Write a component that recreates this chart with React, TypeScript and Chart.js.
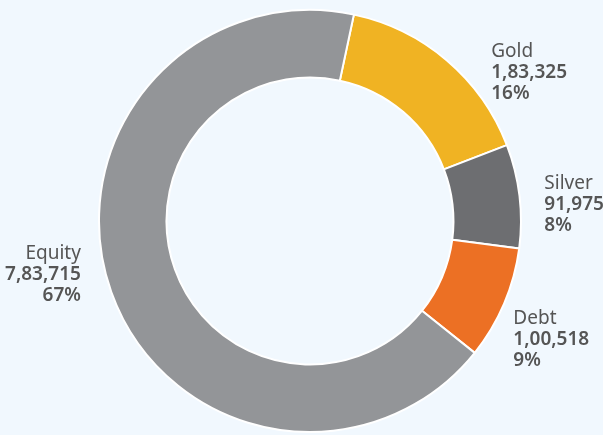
import React, { useEffect, useRef } from "react";
import { Chart, registerables } from "chart.js";

Chart.register(...registerables);

const CATEGORIES = ["Gold", "Silver", "Debt", "Equity"];
const VALUES = [183325, 91975, 100518, 783715];
const COLORS = ["#F0B323", "#6D6E71", "#EC7024", "#939598"];

const BG = "#F1F8FE";
const TEXT = "#555555";
const FONT = "'Noto Sans', sans-serif";

// layout nudges for the outside labels (degrees added to slice mid angle)
const LABEL_NUDGE_DEG = [10, 2.5, 7, 6.8];
const LABEL_DISTANCE = 24;
const LINE_H = 21;

function formatIN(n: number): string {
  const s = String(Math.round(n));
  if (s.length <= 3) return s;
  const last3 = s.slice(-3);
  let rest = s.slice(0, -3);
  const parts: string[] = [];
  while (rest.length > 2) {
    parts.unshift(rest.slice(-2));
    rest = rest.slice(0, -2);
  }
  if (rest) parts.unshift(rest);
  return parts.join(",") + "," + last3;
}

function percents(vals: number[]): number[] {
  const total = vals.reduce((a, b) => a + b, 0);
  const raw = vals.map((v) => (v / total) * 100);
  const fl = raw.map(Math.floor);
  let left = 100 - fl.reduce((a, b) => a + b, 0);
  const order = raw
    .map((r, i) => ({ i, rem: r - Math.floor(r) }))
    .sort((a, b) => b.rem - a.rem);
  for (let k = 0; k < order.length && left > 0; k++, left--) fl[order[k].i] += 1;
  return fl;
}

const labelPlugin = {
  id: "outsideLabels",
  afterDraw(chart: any) {
    const ctx = chart.ctx as CanvasRenderingContext2D;
    const meta = chart.getDatasetMeta(0);
    const pcts = percents(VALUES);
    ctx.save();
    ctx.fillStyle = TEXT;
    ctx.textBaseline = "middle";
    meta.data.forEach((arc: any, i: number) => {
      const p = arc.getProps(["x", "y", "startAngle", "endAngle", "outerRadius"], true);
      const mid = (p.startAngle + p.endAngle) / 2 + (LABEL_NUDGE_DEG[i] * Math.PI) / 180;
      const r = p.outerRadius + LABEL_DISTANCE;
      const x = p.x + Math.cos(mid) * r;
      const y = p.y + Math.sin(mid) * r + 1;
      ctx.textAlign = Math.cos(mid) >= 0 ? "left" : "right";
      const lines = [
        { t: CATEGORIES[i], w: "400" },
        { t: formatIN(VALUES[i]), w: "600" },
        { t: pcts[i] + "%", w: "600" },
      ];
      lines.forEach((ln, k) => {
        ctx.font = `${ln.w} 19px ${FONT}`;
        ctx.fillText(ln.t, x, y + (k - 1) * LINE_H);
      });
    });
    ctx.restore();
  },
};

export default function App() {
  const ref = useRef<HTMLCanvasElement | null>(null);
  useEffect(() => {
    document.body.style.margin = "0";
    document.body.style.background = BG;
    const chart = new Chart(ref.current!, {
      type: "doughnut",
      data: {
        labels: CATEGORIES,
        datasets: [
          {
            data: VALUES,
            backgroundColor: COLORS,
            borderColor: "#ffffff",
            borderWidth: 2,
            hoverOffset: 0,
          },
        ],
      },
      options: {
        responsive: false,
        animation: false,
        rotation: 12,
        cutout: "68%",
        layout: { padding: { top: 9, bottom: 2, left: 98, right: 81 } },
        plugins: {
          legend: { display: false },
          tooltip: { enabled: false },
        },
      },
      plugins: [labelPlugin],
    });
    return () => chart.destroy();
  }, []);
  return (
    <div style={{ position: "fixed", left: 0, top: 0, width: 603, height: 435, background: BG }}>
      <canvas ref={ref} width={603} height={435} style={{ width: 603, height: 435 }} />
    </div>
  );
}
